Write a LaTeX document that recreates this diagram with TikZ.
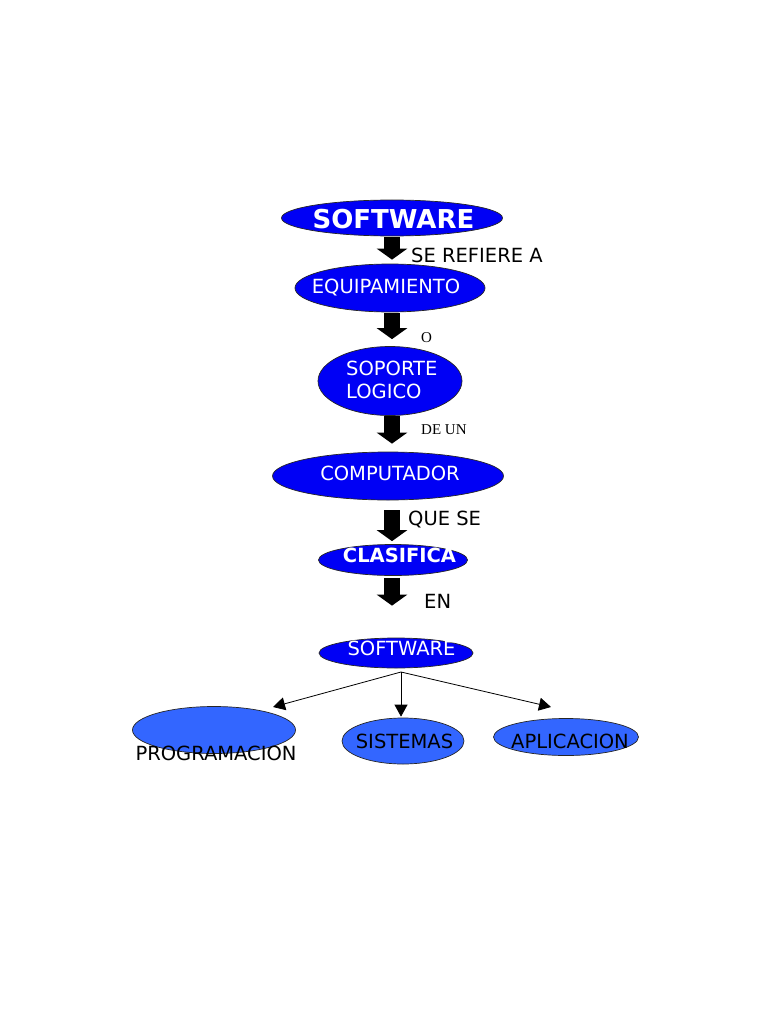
\documentclass[tikz,border=0pt]{standalone}
\usepackage{fontspec}
\setmainfont{DejaVu Sans}
\newfontfamily\serifo{Liberation Serif}
\usetikzlibrary{shapes.geometric,arrows.meta}
\definecolor{topblue}{RGB}{0,0,245}
\definecolor{lowblue}{RGB}{51,102,255}
\tikzset{
  oval/.style={ellipse, draw=black!85, line width=0.7pt, fill=topblue, inner sep=0pt},
  lowoval/.style={oval, fill=lowblue},
  wtext/.style={text=white, inner sep=0pt, font=\fontsize{19.5}{22.5}\selectfont},
  btext/.style={text=black, inner sep=0pt, font=\fontsize{19.5}{22.5}\selectfont},
  arrlabel/.style={anchor=west, inner sep=0pt, font=\fontsize{19.5}{22.5}\selectfont},
  smalllabel/.style={anchor=west, inner sep=0pt, font=\serifo\fontsize{15}{17}\selectfont},
  blockarrow/.style={line width=16pt, -{Triangle[width=30pt,length=11pt]}},
  thinarrow/.style={line width=0.8pt, -{Triangle[width=13pt,length=12pt]}}
}
\begin{document}
\begin{tikzpicture}[x=1pt,y=-1pt]
			%%%%% START %%%%%
			\useasboundingbox (0,0) rectangle (768,1024);
			\coordinate (axis) at (392,0);
			
			% upper chain
			\node[oval, minimum width=221pt, minimum height=36pt] (soft) at (392,218) {};
			\node[wtext, font=\bfseries\fontsize{26}{29}\selectfont] (softt) at (393.5,219) {SOFTWARE};
			
			\node[oval, minimum width=190pt, minimum height=48pt] (equip) at (390,288) {};
			\node[wtext] (equipt) at (386,288) {EQUIPAMIENTO};
			
			\node[oval, minimum width=144pt, minimum height=69pt] (sop) at (390,381) {};
			\node[wtext, anchor=west, align=left] (sopt) at (346,380) {SOPORTE\\LOGICO};
			
			\node[oval, minimum width=231pt, minimum height=48pt] (comp) at (388,476) {};
			\node[wtext] (compt) at (390,473) {COMPUTADOR};
			
			\node[oval, minimum width=149pt, minimum height=31pt] (clas) at (393,560) {};
			\node[wtext, font=\bfseries\fontsize{19.5}{22.5}\selectfont] (clast) at (399.5,555) {CLASIFICA};
			
			\node[oval, minimum width=154pt, minimum height=30pt] (soft2) at (396,653) {};
			\node[wtext] (soft2t) at (401.5,648) {SOFTWARE};
			
			% block arrows
			\draw[blockarrow, shorten <=1pt, shorten >=4pt] (soft.south -| axis) -- (equip.north -| axis);
			\draw[blockarrow, shorten <=1pt, shorten >=7pt] (equip.south -| axis) -- (sop.north -| axis);
			\draw[blockarrow, shorten >=8pt] (sop.south -| axis) -- (comp.north -| axis);
			\draw[blockarrow, shorten <=10pt, shorten >=3pt] (comp.south -| axis) -- (clas.north -| axis);
			\draw[blockarrow, shorten <=2pt, shorten >=32pt] (clas.south -| axis) -- (soft2.north -| axis);
			
			\node[arrlabel] (l1) at (411,255) {SE REFIERE A};
			\node[smalllabel] (l2) at (421,338) {O};
			\node[smalllabel] (l3) at (421,430) {DE UN};
			\node[arrlabel] (l4) at (408,520) {QUE SE};
			\node[arrlabel] (l5) at (424,601) {EN};
			
			% lower row
			\node[lowoval, minimum width=163pt, minimum height=47pt] (prog) at (214,730) {};
			\node[btext] (progt) at (216,753) {PROGRAMACION};
			
			\node[lowoval, minimum width=122pt, minimum height=46pt] (sis) at (403,741) {};
			\node[btext] (sist) at (404.5,741) {SISTEMAS};
			
			\node[lowoval, minimum width=145pt, minimum height=37pt] (apl) at (566,737) {};
			\node[btext] (aplt) at (570,741) {APLICACION};
			
			\coordinate (hub) at (401,672);
			\coordinate (tipP) at (273,707);
			\coordinate (tipA) at (551,707);
			\draw[thinarrow] (hub) -- (tipP);
			\draw[thinarrow, shorten >=1pt] (hub) -- (hub |- sis.north);
			\draw[thinarrow] (hub) -- (tipA);
			%%%%% END %%%%%
\end{tikzpicture}
\end{document}
